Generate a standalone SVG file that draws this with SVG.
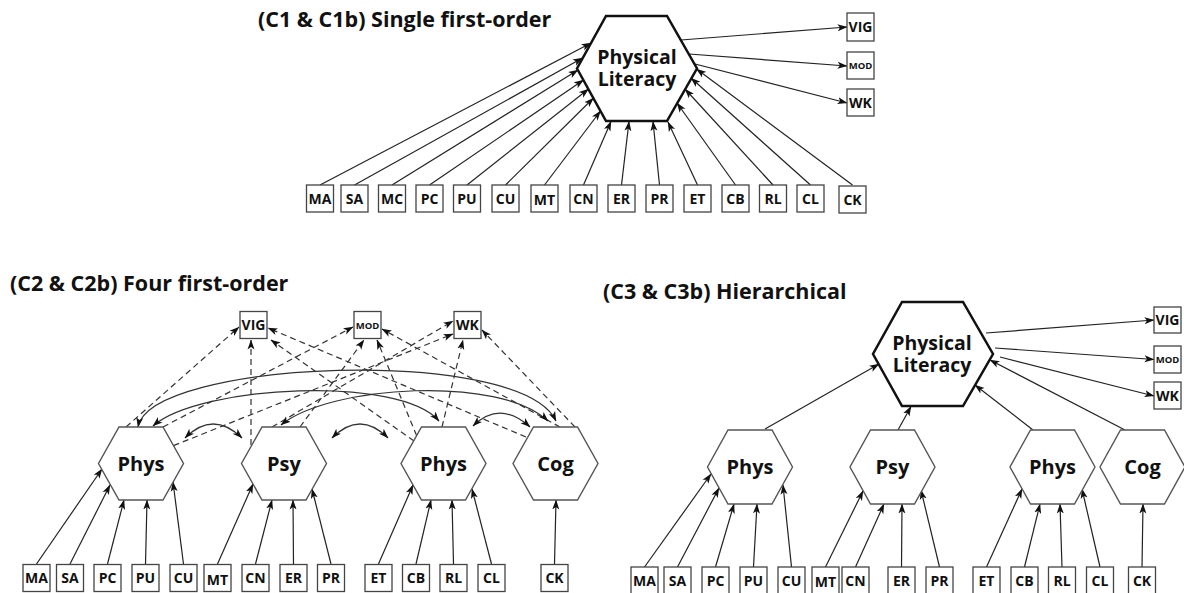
<svg xmlns="http://www.w3.org/2000/svg" width="1184" height="593" viewBox="0 0 1184 593">
<defs>
<marker id="ah" viewBox="0 0 10 8" refX="9.5" refY="4" markerWidth="10" markerHeight="8" markerUnits="userSpaceOnUse" orient="auto-start-reverse"><path d="M0,0.5 L10,4 L0,7.5 L2.5,4 Z" fill="#111"/></marker>
</defs>
<style>
text{font-family:"Open Sans","Noto Sans","Liberation Sans",sans-serif;font-weight:700;fill:#111;text-anchor:middle}
.ttl{font-size:21.5px;text-anchor:start}
.big{font-size:19.5px}
.hx{font-size:20px}
.lb{font-size:14px}
.sm{font-size:9.5px}
.bigh{fill:#fff;stroke:#111;stroke-width:2.5;stroke-linejoin:miter}
.hex{fill:#fff;stroke:#555;stroke-width:1.4}
.box{fill:#fff;stroke:#444;stroke-width:1.3}
.ln{stroke:#222;stroke-width:1.2;fill:none;marker-end:url(#ah)}
.ds{stroke:#333;stroke-width:1.2;fill:none;stroke-dasharray:6 4;marker-end:url(#ah)}
.cv{stroke:#333;stroke-width:1.2;fill:none;marker-start:url(#ah);marker-end:url(#ah)}
</style>
<rect width="1184" height="593" fill="#fff"/>

<text class="ttl" x="258" y="27">(C1 &amp; C1b) Single first-order</text>
<text class="ttl" x="10" y="291">(C2 &amp; C2b) Four first-order</text>
<text class="ttl" x="603" y="299">(C3 &amp; C3b) Hierarchical</text>

<g id="connectors">
<!-- C1 -->
<line class="ln" x1="320" y1="185" x2="591" y2="43"/>
<line class="ln" x1="354.5" y1="185" x2="582.5" y2="58"/>
<line class="ln" x1="392" y1="185" x2="578" y2="70"/>
<line class="ln" x1="429.5" y1="185" x2="583.5" y2="80"/>
<line class="ln" x1="467" y1="185" x2="588.5" y2="89"/>
<line class="ln" x1="505.5" y1="185" x2="593.5" y2="98"/>
<line class="ln" x1="544.5" y1="185" x2="600.5" y2="111"/>
<line class="ln" x1="583.5" y1="185" x2="611" y2="121.5"/>
<line class="ln" x1="621.5" y1="185" x2="629" y2="121.5"/>
<line class="ln" x1="659.5" y1="185" x2="653" y2="121.5"/>
<line class="ln" x1="697.5" y1="185" x2="668" y2="122"/>
<line class="ln" x1="735.5" y1="185" x2="677" y2="103"/>
<line class="ln" x1="773" y1="185" x2="685" y2="89"/>
<line class="ln" x1="810.5" y1="185" x2="691" y2="78"/>
<line class="ln" x1="852.5" y1="185" x2="696.5" y2="69"/>
<line class="ln" x1="681" y1="40" x2="847" y2="27"/>
<line class="ln" x1="689" y1="54" x2="847" y2="66"/>
<line class="ln" x1="695" y1="64" x2="847" y2="103"/>
<!-- C2 indicators -->
<line class="ln" x1="36.5" y1="564" x2="102" y2="469"/>
<line class="ln" x1="70" y1="564" x2="110" y2="485"/>
<line class="ln" x1="107.5" y1="564" x2="124" y2="500"/>
<line class="ln" x1="145.5" y1="564" x2="147" y2="500"/>
<line class="ln" x1="183.5" y1="564" x2="173" y2="482"/>
<line class="ln" x1="217.5" y1="564" x2="253" y2="484"/>
<line class="ln" x1="255.5" y1="564" x2="272" y2="500"/>
<line class="ln" x1="293.5" y1="564" x2="293" y2="500"/>
<line class="ln" x1="331" y1="564" x2="312" y2="489"/>
<line class="ln" x1="378.5" y1="564" x2="413" y2="485"/>
<line class="ln" x1="416" y1="564" x2="431" y2="500"/>
<line class="ln" x1="453.5" y1="564" x2="452" y2="500"/>
<line class="ln" x1="491.5" y1="564" x2="472" y2="489"/>
<line class="ln" x1="554.5" y1="564" x2="556" y2="500"/>
<!-- C2 dashed to outcomes -->
<line class="ds" x1="126" y1="427" x2="239" y2="327"/>
<line class="ds" x1="251" y1="445" x2="251" y2="340"/>
<line class="ds" x1="414" y1="441" x2="271" y2="340"/>
<line class="ds" x1="526" y1="437" x2="268" y2="328"/>
<line class="ds" x1="163" y1="427" x2="353" y2="327"/>
<line class="ds" x1="300" y1="427" x2="364" y2="340"/>
<line class="ds" x1="416.6" y1="435.5" x2="377" y2="340"/>
<line class="ds" x1="560" y1="427" x2="382" y2="329"/>
<line class="ds" x1="173.5" y1="445.6" x2="453" y2="334"/>
<line class="ds" x1="272" y1="427" x2="453" y2="321"/>
<line class="ds" x1="442" y1="427" x2="463" y2="340"/>
<line class="ds" x1="575" y1="427" x2="482" y2="330"/>
<!-- C2 correlations -->
<path class="cv" d="M138,427 C150,360 520,345 556,421"/>
<path class="cv" d="M153,426 C200,385 400,375 439,421"/>
<path class="cv" d="M281,425 C330,385 500,375 548,421"/>
<path class="cv" d="M185,438 Q213,410 242,438"/>
<path class="cv" d="M332,438 Q360,410 388,438"/>
<path class="cv" d="M473,426 Q500,400 530,427"/>
<!-- C3 -->
<line class="ln" x1="765" y1="429" x2="879" y2="364"/>
<line class="ln" x1="898" y1="430" x2="911" y2="406.5"/>
<line class="ln" x1="1033" y1="430" x2="975" y2="385"/>
<line class="ln" x1="1125" y1="430" x2="990" y2="360"/>
<line class="ln" x1="986" y1="333" x2="1154" y2="320"/>
<line class="ln" x1="995" y1="348" x2="1154" y2="359.5"/>
<line class="ln" x1="1000" y1="357" x2="1154" y2="396"/>
<line class="ln" x1="644.5" y1="567" x2="711" y2="474"/>
<line class="ln" x1="677.5" y1="567" x2="719" y2="488"/>
<line class="ln" x1="715.5" y1="567" x2="734" y2="504"/>
<line class="ln" x1="753.5" y1="567" x2="757" y2="504"/>
<line class="ln" x1="791.5" y1="567" x2="783" y2="485"/>
<line class="ln" x1="825.5" y1="567" x2="863" y2="491"/>
<line class="ln" x1="855.5" y1="567" x2="884" y2="504"/>
<line class="ln" x1="901.5" y1="567" x2="902" y2="504"/>
<line class="ln" x1="939.5" y1="567" x2="921" y2="490"/>
<line class="ln" x1="986.5" y1="567" x2="1022" y2="489"/>
<line class="ln" x1="1024.5" y1="567" x2="1040" y2="504"/>
<line class="ln" x1="1062" y1="567" x2="1060" y2="504"/>
<line class="ln" x1="1100" y1="567" x2="1082" y2="489"/>
<line class="ln" x1="1142" y1="567" x2="1143" y2="504"/>
</g>

<!-- C1 nodes -->
<g id="c1-pl"><polygon class="bigh" points="606,16 667,16 697,68.5 667,121 606,121 577,68.5"/><text class="big" x="637" y="64">Physical</text><text class="big" x="637" y="86">Literacy</text></g>
<g id="c1-vig"><rect class="box" x="847" y="13" width="27" height="28"/><text class="lb" x="860.5" y="32">VIG</text></g>
<g id="c1-mod"><rect class="box" x="847" y="52" width="27" height="27"/><text class="sm" x="860.5" y="69">MOD</text></g>
<g id="c1-wk"><rect class="box" x="847" y="89" width="27" height="27"/><text class="lb" x="860.5" y="107.5">WK</text></g>
<g id="c1-ma"><rect class="box" x="306.5" y="185" width="27" height="27"/><text class="lb" x="320" y="203.5">MA</text></g>
<g id="c1-sa"><rect class="box" x="341" y="185" width="27" height="27"/><text class="lb" x="354.5" y="203.5">SA</text></g>
<g id="c1-mc"><rect class="box" x="378.5" y="185" width="27" height="27"/><text class="lb" x="392" y="203.5">MC</text></g>
<g id="c1-pc"><rect class="box" x="416" y="185" width="27" height="27"/><text class="lb" x="429.5" y="203.5">PC</text></g>
<g id="c1-pu"><rect class="box" x="453.5" y="185" width="27" height="27"/><text class="lb" x="467" y="203.5">PU</text></g>
<g id="c1-cu"><rect class="box" x="492" y="185" width="27" height="27"/><text class="lb" x="505.5" y="203.5">CU</text></g>
<g id="c1-mt"><rect class="box" x="531" y="185" width="27" height="27"/><text class="lb" x="544.5" y="205">MT</text></g>
<g id="c1-cn"><rect class="box" x="570" y="185" width="27" height="27"/><text class="lb" x="583.5" y="203.5">CN</text></g>
<g id="c1-er"><rect class="box" x="608" y="185" width="27" height="27"/><text class="lb" x="621.5" y="203.5">ER</text></g>
<g id="c1-pr"><rect class="box" x="646" y="185" width="27" height="27"/><text class="lb" x="659.5" y="203.5">PR</text></g>
<g id="c1-et"><rect class="box" x="684" y="185" width="27" height="27"/><text class="lb" x="697.5" y="203.5">ET</text></g>
<g id="c1-cb"><rect class="box" x="722" y="185" width="27" height="27"/><text class="lb" x="735.5" y="203.5">CB</text></g>
<g id="c1-rl"><rect class="box" x="759.5" y="185" width="27" height="27"/><text class="lb" x="773" y="203.5">RL</text></g>
<g id="c1-cl"><rect class="box" x="797" y="185" width="27" height="27"/><text class="lb" x="810.5" y="203.5">CL</text></g>
<g id="c1-ck"><rect class="box" x="839" y="186" width="27" height="27"/><text class="lb" x="852.5" y="205">CK</text></g>

<!-- C2 nodes -->
<g id="c2-phys1"><polygon class="hex" points="119,427 163,427 183.5,463.5 163,500 119,500 98.5,463.5"/><text class="hx" x="141" y="470.5">Phys</text></g>
<g id="c2-psy"><polygon class="hex" points="262,427 306,427 326.5,463.5 306,500 262,500 241.5,463.5"/><text class="hx" x="284" y="470.5">Psy</text></g>
<g id="c2-phys2"><polygon class="hex" points="421.5,427 465.5,427 486,463.5 465.5,500 421.5,500 401,463.5"/><text class="hx" x="443.5" y="470.5">Phys</text></g>
<g id="c2-cog"><polygon class="hex" points="533.5,427 577.5,427 598,463.5 577.5,500 533.5,500 513,463.5"/><text class="hx" x="555.5" y="470.5">Cog</text></g>
<g id="c2-vig"><rect class="box" x="240" y="311.5" width="27" height="27"/><text class="lb" x="253.5" y="330">VIG</text></g>
<g id="c2-mod"><rect class="box" x="354" y="311.5" width="27" height="27"/><text class="sm" x="367.5" y="328.5">MOD</text></g>
<g id="c2-wk"><rect class="box" x="454" y="311.5" width="27" height="27"/><text class="lb" x="467.5" y="330">WK</text></g>
<g id="c2-ma"><rect class="box" x="23" y="564.5" width="27" height="27"/><text class="lb" x="36.5" y="583">MA</text></g>
<g id="c2-sa"><rect class="box" x="56.5" y="564.5" width="27" height="27"/><text class="lb" x="70" y="583">SA</text></g>
<g id="c2-pc"><rect class="box" x="94" y="564.5" width="27" height="27"/><text class="lb" x="107.5" y="583">PC</text></g>
<g id="c2-pu"><rect class="box" x="132" y="564.5" width="27" height="27"/><text class="lb" x="145.5" y="583">PU</text></g>
<g id="c2-cu"><rect class="box" x="170" y="564.5" width="27" height="27"/><text class="lb" x="183.5" y="583">CU</text></g>
<g id="c2-mt"><rect class="box" x="204" y="564.5" width="27" height="27"/><text class="lb" x="217.5" y="584.5">MT</text></g>
<g id="c2-cn"><rect class="box" x="242" y="564.5" width="27" height="27"/><text class="lb" x="255.5" y="583">CN</text></g>
<g id="c2-er"><rect class="box" x="280" y="564.5" width="27" height="27"/><text class="lb" x="293.5" y="583">ER</text></g>
<g id="c2-pr"><rect class="box" x="317.5" y="564.5" width="27" height="27"/><text class="lb" x="331" y="583">PR</text></g>
<g id="c2-et"><rect class="box" x="365" y="564.5" width="27" height="27"/><text class="lb" x="378.5" y="583">ET</text></g>
<g id="c2-cb"><rect class="box" x="402.5" y="564.5" width="27" height="27"/><text class="lb" x="416" y="583">CB</text></g>
<g id="c2-rl"><rect class="box" x="440" y="564.5" width="27" height="27"/><text class="lb" x="453.5" y="583">RL</text></g>
<g id="c2-cl"><rect class="box" x="478" y="564.5" width="27" height="27"/><text class="lb" x="491.5" y="583">CL</text></g>
<g id="c2-ck"><rect class="box" x="541" y="564.5" width="27" height="27"/><text class="lb" x="554.5" y="583">CK</text></g>

<!-- C3 nodes -->
<g id="c3-pl"><polygon class="bigh" points="902,302 963,302 993,354 963,406 902,406 873,354"/><text class="big" x="932" y="350">Physical</text><text class="big" x="932" y="372">Literacy</text></g>
<g id="c3-phys1"><polygon class="hex" points="728,430 772,430 792.5,467 772,504 728,504 707.5,467"/><text class="hx" x="750" y="474">Phys</text></g>
<g id="c3-psy"><polygon class="hex" points="870.5,430 914.5,430 935,467 914.5,504 870.5,504 850,467"/><text class="hx" x="892.5" y="474">Psy</text></g>
<g id="c3-phys2"><polygon class="hex" points="1030.5,430 1074.5,430 1095,467 1074.5,504 1030.5,504 1010,467"/><text class="hx" x="1052.5" y="474">Phys</text></g>
<g id="c3-cog"><polygon class="hex" points="1120.5,430 1164.5,430 1185,467 1164.5,504 1120.5,504 1100,467"/><text class="hx" x="1142.5" y="474">Cog</text></g>
<g id="c3-vig"><rect class="box" x="1154" y="307" width="27" height="26"/><text class="lb" x="1167.5" y="325">VIG</text></g>
<g id="c3-mod"><rect class="box" x="1154" y="346" width="27" height="27"/><text class="sm" x="1167.5" y="363">MOD</text></g>
<g id="c3-wk"><rect class="box" x="1154" y="382" width="27" height="27"/><text class="lb" x="1167.5" y="400.5">WK</text></g>
<g id="c3-ma"><rect class="box" x="631" y="567" width="27" height="28"/><text class="lb" x="644.5" y="585.5">MA</text></g>
<g id="c3-sa"><rect class="box" x="664" y="567" width="27" height="28"/><text class="lb" x="677.5" y="585.5">SA</text></g>
<g id="c3-pc"><rect class="box" x="702" y="567" width="27" height="28"/><text class="lb" x="715.5" y="585.5">PC</text></g>
<g id="c3-pu"><rect class="box" x="740" y="567" width="27" height="28"/><text class="lb" x="753.5" y="585.5">PU</text></g>
<g id="c3-cu"><rect class="box" x="778" y="567" width="27" height="28"/><text class="lb" x="791.5" y="585.5">CU</text></g>
<g id="c3-mt"><rect class="box" x="812" y="567" width="27" height="28"/><text class="lb" x="825.5" y="587">MT</text></g>
<g id="c3-cn"><rect class="box" x="842" y="567" width="27" height="28"/><text class="lb" x="855.5" y="585.5">CN</text></g>
<g id="c3-er"><rect class="box" x="888" y="567" width="27" height="28"/><text class="lb" x="901.5" y="585.5">ER</text></g>
<g id="c3-pr"><rect class="box" x="926" y="567" width="27" height="28"/><text class="lb" x="939.5" y="585.5">PR</text></g>
<g id="c3-et"><rect class="box" x="973" y="567" width="27" height="28"/><text class="lb" x="986.5" y="585.5">ET</text></g>
<g id="c3-cb"><rect class="box" x="1011" y="567" width="27" height="28"/><text class="lb" x="1024.5" y="585.5">CB</text></g>
<g id="c3-rl"><rect class="box" x="1048.5" y="567" width="27" height="28"/><text class="lb" x="1062" y="585.5">RL</text></g>
<g id="c3-cl"><rect class="box" x="1086.5" y="567" width="27" height="28"/><text class="lb" x="1100" y="585.5">CL</text></g>
<g id="c3-ck"><rect class="box" x="1128.5" y="567" width="27" height="28"/><text class="lb" x="1142" y="585.5">CK</text></g>
</svg>
